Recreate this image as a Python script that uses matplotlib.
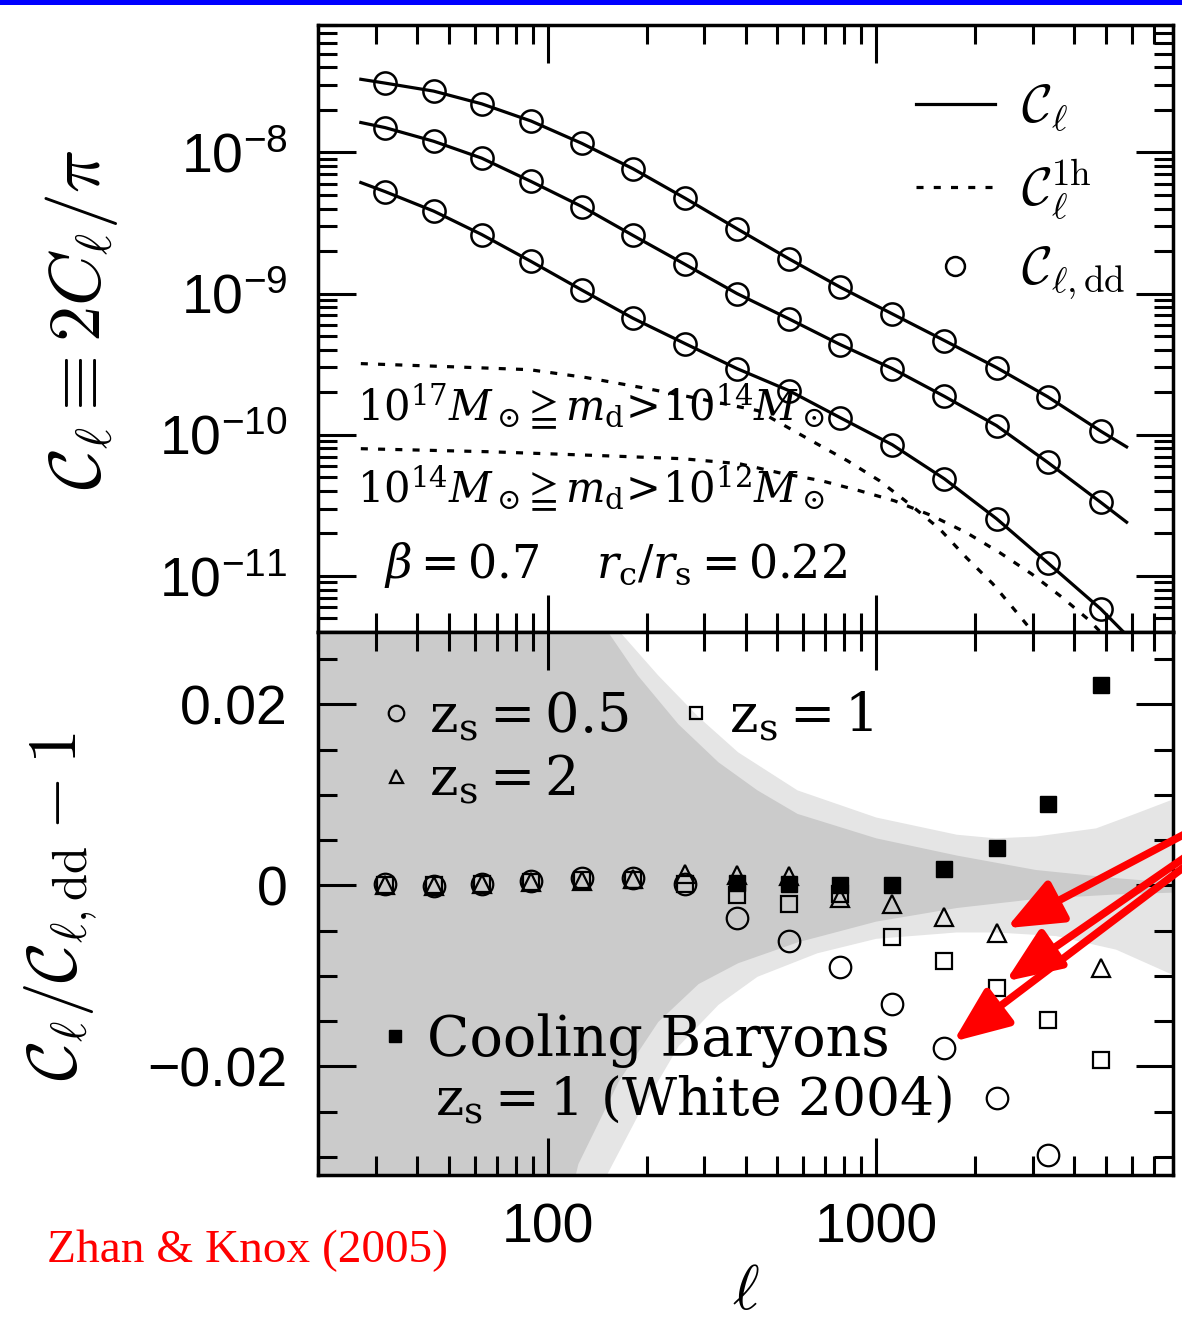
import numpy as np
import matplotlib.pyplot as plt
from matplotlib.ticker import LogLocator, MultipleLocator, FuncFormatter, NullFormatter, FixedLocator
from matplotlib.patches import Rectangle

plt.rcParams['font.family'] = ['Liberation Sans', 'DejaVu Sans']
plt.rcParams['mathtext.fontset'] = 'custom'
plt.rcParams['mathtext.rm'] = 'Liberation Sans'
plt.rcParams['mathtext.it'] = 'Liberation Sans:italic'
plt.rcParams['mathtext.bf'] = 'Liberation Sans:bold'

# multipole bins used by both panels
ell = np.array([32, 45, 63, 89, 127, 182, 262, 377, 543, 777, 1119, 1612, 2323, 3322, 4820])

# C_l model curves: start point, the bins, end point (circles sit on them)
ell_curve = np.array([27, 32, 45, 63, 89, 127, 182, 262, 377, 543, 777, 1119, 1612, 2323, 3322, 4820, 5780])
cl_top = np.array([3.30e-8, 3.10e-8, 2.72e-8, 2.21e-8, 1.67e-8, 1.16e-8, 7.66e-9, 4.74e-9, 2.88e-9,
                   1.76e-9, 1.11e-9, 7.18e-10, 4.65e-10, 2.99e-10, 1.86e-10, 1.06e-10, 8.2e-11])
cl_mid = np.array([1.63e-8, 1.50e-8, 1.20e-8, 9.11e-9, 6.23e-9, 4.14e-9, 2.58e-9, 1.61e-9, 1.00e-9,
                   6.61e-10, 4.35e-10, 2.94e-10, 1.87e-10, 1.16e-10, 6.38e-11, 3.32e-11, 2.4e-11])
cl_low = np.array([6.12e-9, 5.28e-9, 3.84e-9, 2.62e-9, 1.69e-9, 1.06e-9, 6.68e-10, 4.42e-10, 2.94e-10,
                   2.05e-10, 1.32e-10, 8.49e-11, 4.87e-11, 2.54e-11, 1.24e-11, 5.83e-12, 3.8e-12])

# one-halo terms for the two mass ranges
ell_1h_hi = [27, 51, 88, 131, 195, 289, 437, 635, 817, 1023, 1281, 1559, 1884, 2263, 2700, 3150]
cl_1h_hi = [3.19e-10, 3.03e-10, 2.89e-10, 2.54e-10, 2.15e-10, 1.80e-10, 1.48e-10, 9.06e-11,
            6.54e-11, 4.72e-11, 3.14e-11, 2.15e-11, 1.34e-11, 8.78e-12, 5.37e-12, 3.47e-12]
ell_1h_lo = [27, 67, 150, 257, 383, 507, 681, 889, 1137, 1475, 1884, 2376, 2974, 3696, 4467, 4966]
cl_1h_lo = [7.96e-11, 7.57e-11, 7.09e-11, 6.76e-11, 6.23e-11, 5.37e-11, 4.72e-11, 4.01e-11,
            3.40e-11, 2.67e-11, 2.02e-11, 1.46e-11, 1.03e-11, 6.98e-12, 4.80e-12, 3.7e-12]

# lower panel: C_l / C_l,dd - 1
ratio_z05 = [0.0001, -0.0001, 0.0001, 0.0005, 0.0008, 0.0008, 0.0001, -0.0036, -0.0061, -0.0090,
             -0.0131, -0.0180, -0.0235, -0.0298, np.nan]
ratio_z1 = [0.0, 0.0, 0.0001, 0.0004, 0.0006, 0.0006, 0.0002, -0.0011, -0.0021, -0.0010,
            -0.0057, -0.0083, -0.0113, -0.0149, -0.0193]
ratio_z2 = [0.0, -0.0001, 0.0001, 0.0004, 0.0005, 0.0007, 0.0013, 0.0012, 0.0010, -0.0014,
            -0.0021, -0.0035, -0.0053, -0.0069, -0.0091]
ell_white = ell[7:]
ratio_white = [0.0003, 0.0002, 0.0, 0.0, 0.0018, 0.0041, 0.0090, 0.0221]

# error envelopes (inner = dark, outer = light)
ell_in_up = [20, 100, 152, 188, 250, 331, 435, 576, 1000, 1758, 3063, 5371, 8000]
in_up = [0.12, 0.045, 0.0281, 0.0232, 0.0178, 0.0136, 0.0105, 0.0079, 0.0052, 0.0033, 0.0017, 0.0008, 0.0003]
ell_in_lo = [20, 100, 124, 165, 217, 288, 380, 576, 1000, 1758, 3063, 5371, 8000]
in_lo = [-0.12, -0.045, -0.0308, -0.0216, -0.0151, -0.0109, -0.0086, -0.0063, -0.0040, -0.0025, -0.0015, -0.0010, -0.0008]
ell_out_up = [20, 100, 165, 217, 288, 380, 576, 1000, 1758, 2311, 3063, 4668, 6134, 8000]
out_up = [0.1, 0.04, 0.0281, 0.0232, 0.0186, 0.0147, 0.0105, 0.0075, 0.0056, 0.0052, 0.0054, 0.0063, 0.0079, 0.0095]
ell_out_lo = [20, 100, 152, 188, 250, 331, 435, 662, 1000, 1758, 2311, 3527, 5371, 8000]
out_lo = [-0.1, -0.045, -0.0319, -0.0255, -0.0178, -0.0132, -0.0101, -0.0075, -0.0059, -0.0052, -0.0052, -0.0056, -0.0071, -0.0099]

cl_ticks = [1e-11, 1e-10, 1e-9, 1e-8]

fig = plt.figure(figsize=(11.82, 13.22), dpi=100)
W, H = 1182.0, 1322.0
ax1 = fig.add_axes([318 / W, 1 - 632 / H, 855 / W, 607 / H])
ax2 = fig.add_axes([318 / W, 1 - 1175 / H, 855 / W, 543 / H])

fig.add_artist(Rectangle((0, 1 - 5 / H), 1, 5 / H, transform=fig.transFigure,
                         facecolor='#0000ff', edgecolor='none'))

# ---- top panel
dots = (0, (2.2, 3.2))
for cl in (cl_top, cl_mid, cl_low):
    line_full, = ax1.plot(ell_curve, cl, color='k', lw=2.3)
    circ, = ax1.plot(ell_curve[1:-1], cl[1:-1], 'o', ms=16, mfc='none', mec='k', mew=1.8)
line_1h, = ax1.plot(ell_1h_hi, cl_1h_hi, color='k', lw=2.3, ls=dots)
ax1.plot(ell_1h_lo, cl_1h_lo, color='k', lw=2.3, ls=dots)

ax1.set_yscale('log')
ax1.set_ylim(4e-12, 8e-8)
ax1.yaxis.set_major_locator(FixedLocator(cl_ticks))

leg = ax1.legend([line_full, line_1h, circ],
                 [r'$\mathcal{C}_\ell$', r'$\mathcal{C}_\ell^{\rm 1h}$', r'$\mathcal{C}_{\ell,\rm dd}$'],
                 loc='upper left', bbox_to_anchor=(0.699, 0.905), frameon=False, fontsize=38,
                 handlelength=1.5, handletextpad=0.5, labelspacing=0.42,
                 borderpad=0, borderaxespad=0, markerscale=0.85)
for t in leg.get_texts():
    t.set_math_fontfamily('cm')

txt = dict(transform=ax1.transAxes, fontsize=30, math_fontfamily='dejavuserif', va='baseline')
ax1.text(0.0456, 0.3476, r'$10^{17}M_\odot\!\geqq m_{\rm d}\!>\!10^{14}M_\odot$', **txt)
ax1.text(0.0456, 0.2125, r'$10^{14}M_\odot\!\geqq m_{\rm d}\!>\!10^{12}M_\odot$', **txt)
txt['fontsize'] = 33
ax1.text(0.0772, 0.089, r'$\beta = 0.7\quad\; r_{\rm c}/r_{\rm s} = 0.22$', **txt)

ax1.set_ylabel(r'$\mathcal{C}_\ell \equiv 2C_\ell/\pi$', fontsize=52, math_fontfamily='cm')
ax1.yaxis.set_label_coords(-0.232, 0.515)

# ---- bottom panel
ax2.fill(np.concatenate([ell_out_up, ell_out_lo[::-1]]), np.concatenate([out_up, out_lo[::-1]]),
         color='#e5e5e5', lw=0, zorder=0.5)
ax2.fill(np.concatenate([ell_in_up, ell_in_lo[::-1]]), np.concatenate([in_up, in_lo[::-1]]),
         color='#cbcbcb', lw=0, zorder=0.6)

h05, = ax2.plot(ell, ratio_z05, 'o', ms=15.5, mfc='none', mec='k', mew=1.6)
h1, = ax2.plot(ell, ratio_z1, 's', ms=11.5, mfc='none', mec='k', mew=1.6)
h2, = ax2.plot(ell, ratio_z2, '^', ms=13, mfc='none', mec='k', mew=1.6)
hw, = ax2.plot(ell_white, ratio_white, 's', ms=12, color='k')

ax2.set_ylim(-0.032, 0.028)

leg2 = ax2.legend([h05, h2, h1], [r'$\mathrm{z_s} = 0.5$', r'$\mathrm{z_s} = 2$', r'$\mathrm{z_s} = 1$'],
                  ncol=2, loc='upper left', bbox_to_anchor=(0.0725, 0.895), frameon=False,
                  fontsize=39, handlelength=0.6, handletextpad=0.3, columnspacing=0.95,
                  labelspacing=0.18, borderpad=0, borderaxespad=0, markerscale=0.72)
for t in leg2.get_texts():
    t.set_math_fontfamily('dejavuserif')
ax2.add_artist(leg2)
ax2.legend([hw], ['Cooling Baryons'], loc='upper left', bbox_to_anchor=(0.0725, 0.298),
           frameon=False, prop={'family': 'DejaVu Serif', 'size': 40}, handlelength=0.55,
           handletextpad=0.3, borderpad=0, borderaxespad=0, markerscale=0.72)
ax2.text(0.137, 0.1105, r'$\mathrm{z_s = 1\ (White\ 2004)}$', transform=ax2.transAxes,
         fontsize=38.5, math_fontfamily='dejavuserif', va='baseline')

ax2.set_ylabel(r'$\mathcal{C}_\ell/\mathcal{C}_{\ell,\rm dd} - 1$', fontsize=50, math_fontfamily='cm')
ax2.yaxis.set_label_coords(-0.255, 0.494)
ax2.set_xlabel(r'$\ell$', fontsize=46, math_fontfamily='cm')
ax2.xaxis.set_label_coords(0.5, -0.16)

ax2.yaxis.set_major_locator(MultipleLocator(0.02))
ax2.yaxis.set_minor_locator(MultipleLocator(0.005))
ax2.yaxis.set_major_formatter(FuncFormatter(lambda v, p: '0' if abs(v) < 1e-9 else f'{v:.2f}'.replace('-', '\u2212')))

# arrows pointing at the shifted points
for lv, rv in [(ell[12], ratio_z2[12]), (ell[12], ratio_z1[12]), (ell[11], ratio_z05[11])]:
    ax2.annotate('', xy=(lv, rv), xycoords='data', xytext=(1327, H - 759), textcoords='figure pixels',
                 arrowprops=dict(arrowstyle='-|>,head_length=1.7,head_width=0.7', color='red',
                                 lw=5.5, shrinkA=0, shrinkB=8, mutation_scale=20),
                 annotation_clip=False)

# ---- shared axis styling
for ax in (ax1, ax2):
    ax.set_xscale('log')
    ax.set_xlim(20, 8000)
    ax.xaxis.set_major_locator(FixedLocator([100, 1000]))
    ax.xaxis.set_minor_locator(LogLocator(base=10, subs=np.arange(2, 10), numticks=20))
    ax.xaxis.set_minor_formatter(NullFormatter())
    ax.tick_params(which='both', direction='in', top=True, right=True, width=2.2,
                   labelsize=40, pad=22)
    ax.tick_params(which='major', length=27)
    ax.tick_params(which='minor', length=14)
    for s in ax.spines.values():
        s.set_linewidth(2.5)
ax1.yaxis.set_minor_formatter(NullFormatter())
ax1.tick_params(labelbottom=False)
ax2.xaxis.set_major_formatter(FuncFormatter(lambda v, p: f'{v:g}'))
ax2.tick_params(axis='x', pad=20)

fig.text(47 / W, 1 - 1262 / H, 'Zhan & Knox (2005)', fontsize=34, family='Liberation Serif',
         color='red', va='baseline')

fig.savefig('out.png', dpi=100)
